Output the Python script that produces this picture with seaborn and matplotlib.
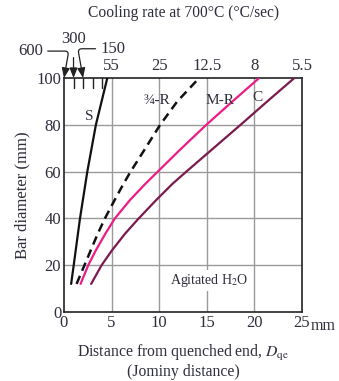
import matplotlib
matplotlib.use("Agg")
import matplotlib.pyplot as plt
import seaborn as sns
import pandas as pd

sns.set_theme(style="white")
plt.rcParams['font.family'] = ['Liberation Serif', 'DejaVu Serif']
plt.rcParams['mathtext.fontset'] = 'stix'

TXT = "#2e2e3c"

# data (distance from quenched end in mm, bar diameter in mm)
s_x = [0.75, 1.02, 1.68, 2.45, 3.35, 4.55]
s_y = [12, 20, 40, 60, 80, 100]
r34_x = [1.32, 2.15, 3.55, 4.3, 5.3, 6.25, 7.0, 8.4, 10.1, 11.9, 14.2]
r34_y = [12, 20, 33.5, 40, 47.7, 54.8, 60, 69, 80, 90, 100]
mr_x = [1.74, 2.55, 3.35, 4.35, 5.35, 6.9, 8.55, 9.85, 12.1, 14.95, 17.7, 20.5]
mr_y = [12, 20, 26.4, 33.5, 40, 47.7, 54.8, 60, 69, 80, 90, 100]
c_x = [2.85, 3.95, 5.05, 6.42, 7.85, 9.65, 11.4, 12.85, 15.7, 18.55, 21.35, 24.2]
c_y = [12, 20, 26.4, 33.5, 40, 47.7, 54.8, 60, 70, 80, 90, 100]

top_pos = [5, 10, 15, 20, 25]
top_labels = ["55", "25", "12.5", "8", "5.5"]
x_ticks = [0, 5, 10, 15, 20, 25]
y_ticks = [0, 20, 40, 60, 80, 100]

fig = plt.figure(figsize=(3.39, 3.81), dpi=100)
ax = fig.add_axes([64/339, 69/381, 238/339, 234/381])
ax.set_xlim(0, 25)
ax.set_ylim(0, 100)

# grid
for gx in [5, 10, 15, 20]:
    ax.axvline(gx, color="#9a9a9a", lw=1.0, zorder=1)
for gy in [20, 40, 60, 80]:
    ax.axhline(gy, color="#9a9a9a", lw=1.0, zorder=1)

df = pd.concat([
    pd.DataFrame({"x": s_x, "y": s_y, "c": "S"}),
    pd.DataFrame({"x": r34_x, "y": r34_y, "c": "R34"}),
    pd.DataFrame({"x": mr_x, "y": mr_y, "c": "MR"}),
    pd.DataFrame({"x": c_x, "y": c_y, "c": "C"}),
])
sns.lineplot(data=df[df.c == "S"], x="x", y="y", color="#111111", lw=1.6, ax=ax, sort=False, zorder=3)
sns.lineplot(data=df[df.c == "R34"], x="x", y="y", color="#111111", lw=1.8, ax=ax, sort=False,
             zorder=3).lines[-1].set_dashes((3.5, 2.2))
sns.lineplot(data=df[df.c == "MR"], x="x", y="y", color="#EC1C86", lw=1.6, ax=ax, sort=False, zorder=3)
sns.lineplot(data=df[df.c == "C"], x="x", y="y", color="#7A1A4E", lw=1.6, ax=ax, sort=False, zorder=3)
for ln in ax.lines:
    ln.set_solid_joinstyle("round")

# axes styling
for sp in ax.spines.values():
    sp.set_color("#222222")
    sp.set_linewidth(1.2)
ax.set_xticks(x_ticks)
ax.set_xticklabels([str(v) for v in x_ticks])
ax.set_yticks(y_ticks)
ax.set_xticks(range(1, 25), minor=True)
ax.tick_params(axis="x", which="both", direction="in", length=0, labelsize=12, labelcolor=TXT, pad=2)
ax.tick_params(axis="x", which="minor", length=5.2, width=1.0, color="#222222")
ax.tick_params(axis="y", which="major", length=0, labelsize=12, labelcolor=TXT, pad=2)
ax.set_xlabel("")
ax.set_ylabel("Bar diameter (mm)", fontsize=12, color=TXT, labelpad=4)

# top minor ticks 1..4
for tx in [1, 2, 3, 4]:
    ax.plot([tx, tx], [100, 100 - 4.3], color="#222222", lw=1.0, clip_on=False, zorder=4)
ax.text(25.9, -6.0, "mm", fontsize=11.5, color=TXT, ha="left", va="center")

# top labels
for p, l in zip(top_pos, top_labels):
    ax.text(p, 101.5, l, fontsize=12, color=TXT, ha="center", va="bottom", clip_on=False)
ax.text(12.5, 124.5, "Cooling rate at 700\u00b0C (\u00b0C/sec)", fontsize=11.2, color=TXT,
        ha="center", va="bottom", clip_on=False)

arrow_kw = dict(arrowstyle="-|>,head_length=0.5,head_width=0.2", color="#222222", lw=0.9)
ax.annotate("600", xy=(0, 100), xytext=(-2.2, 111.5), fontsize=12, color=TXT, ha="right", va="center",
            arrowprops=dict(connectionstyle="angle,angleA=0,angleB=80,rad=4", shrinkA=1, shrinkB=0, **arrow_kw),
            annotation_clip=False)
ax.annotate("300", xy=(1, 100), xytext=(1, 116.5), fontsize=12, color=TXT, ha="center", va="center",
            arrowprops=dict(shrinkA=5, shrinkB=0, **arrow_kw), annotation_clip=False)
ax.annotate("150", xy=(2, 100), xytext=(3.8, 112.5), fontsize=12, color=TXT, ha="left", va="center",
            arrowprops=dict(connectionstyle="angle,angleA=180,angleB=100,rad=4", shrinkA=1, shrinkB=0, **arrow_kw),
            annotation_clip=False)

# curve labels
ax.text(2.7, 83.5, "S", fontsize=11, color=TXT, ha="center", va="center")
ax.text(9.8, 90.5, "\u00be-R", fontsize=11, color=TXT, ha="center", va="center")
ax.text(16.4, 90.5, "M-R", fontsize=11, color=TXT, ha="center", va="center")
ax.text(20.3, 91.5, "C", fontsize=11, color=TXT, ha="center", va="center")
ax.text(15.3, 13.3, "Agitated H$_2$O", fontsize=10, color=TXT, ha="center", va="center",
        bbox=dict(facecolor="white", edgecolor="none", pad=1.5), zorder=2)

fig.text(183/339, 1 - 353/381, "Distance from quenched end, $D_{\\mathrm{qe}}$", fontsize=11.3, color=TXT,
         ha="center", va="center")
fig.text(183/339, 1 - 372/381, "(Jominy distance)", fontsize=11.3, color=TXT, ha="center", va="center")

fig.savefig("out.png", dpi=100)
